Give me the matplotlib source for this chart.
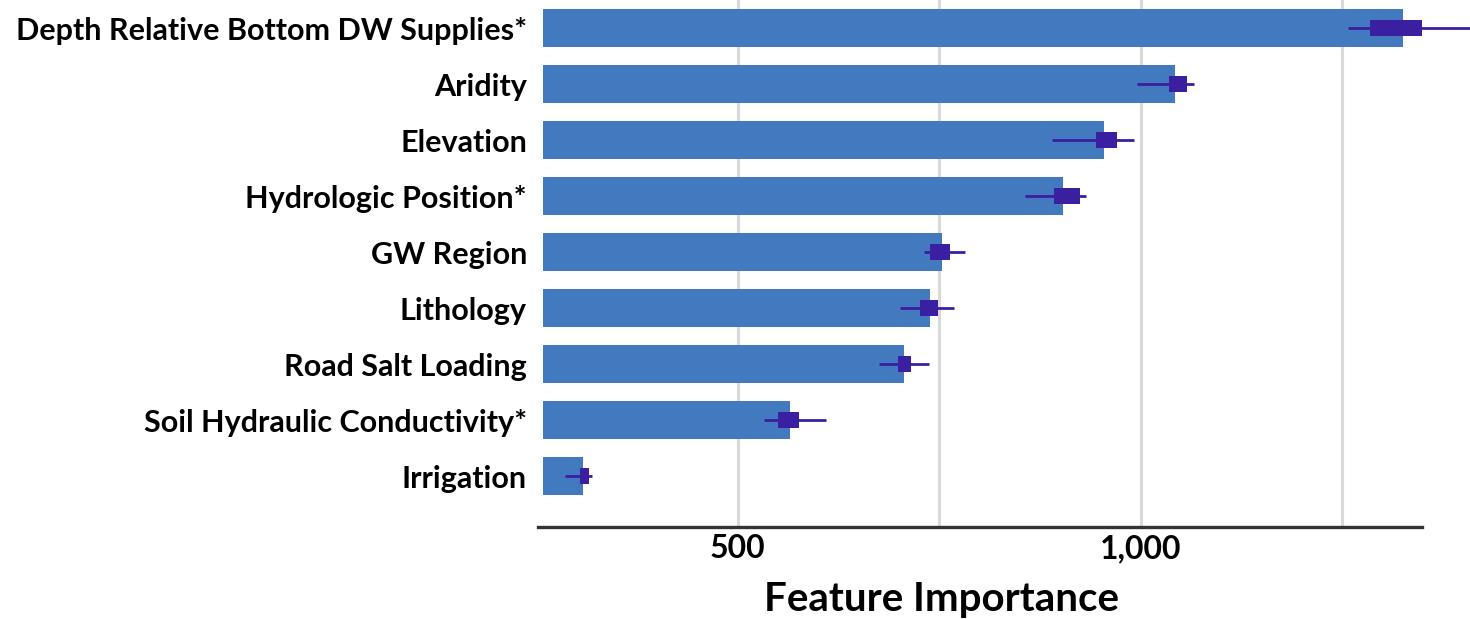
import numpy as np
import matplotlib.pyplot as plt
from matplotlib.ticker import FixedLocator, FuncFormatter

plt.rcParams['font.family'] = ['Lato', 'DejaVu Sans']
plt.rcParams['font.weight'] = 'bold'

# feature importance (bar) with spread of the repeated runs (box + whiskers)
features = ["Depth Relative Bottom DW Supplies*", "Aridity", "Elevation",
            "Hydrologic Position*", "GW Region", "Lithology",
            "Road Salt Loading", "Soil Hydraulic Conductivity*", "Irrigation"]
importance = [1325, 1042, 954, 904, 753, 738, 706, 565, 308]
box_lo = [1284, 1035, 944, 892, 738, 726, 699, 550, 304]
box_hi = [1351, 1057, 971, 924, 763, 749, 715, 576, 315]
whisk_lo = [1257, 995, 890, 856, 731, 701, 675, 533, 285]
whisk_hi = [1420, 1066, 991, 932, 782, 768, 737, 609, 319]
base = 258
major_ticks = [500, 1000]
grid_ticks = [750, 1250]

bar_col = "#4279bf"
err_col = "#3a1fa0"

fig = plt.figure(figsize=(14.7, 6.19), dpi=100)
ax = fig.add_axes([538/1470, 1 - 527/619, (1422 - 538)/1470, 527/619])

y = np.arange(len(features))[::-1]
imp = np.array(importance)
lo = np.array(box_lo)
hi = np.array(box_hi)

ax.barh(y, imp - base, left=base, height=0.69, color=bar_col, zorder=2)
ax.hlines(y, whisk_lo, whisk_hi, color=err_col, lw=2.0, zorder=3, clip_on=False)
ax.barh(y, hi - lo, left=lo, height=0.3, color=err_col, zorder=4)

ax.set_xlim(252, 1349)
ax.set_ylim(-0.91, 8.5)
ax.xaxis.set_major_locator(FixedLocator(major_ticks))
ax.xaxis.set_minor_locator(FixedLocator(grid_ticks))
ax.xaxis.set_major_formatter(FuncFormatter(lambda v, p: f"{v:,.0f}"))
ax.grid(axis='x', which='both', color='#d9d9d9', lw=2.2, zorder=0)
ax.set_axisbelow(True)

ax.set_yticks(y)
ax.set_yticklabels(features)
ax.tick_params(axis='y', length=0, pad=8, labelsize=22)
ax.tick_params(axis='x', which='both', length=0, pad=5, labelsize=23)

for s in ['top', 'right', 'left']:
    ax.spines[s].set_visible(False)
ax.spines['bottom'].set_color('#333333')
ax.spines['bottom'].set_linewidth(2.4)

fig.text(941/1470, 1 - 600/619, "Feature Importance", ha='center', va='center',
         fontsize=29, fontweight='bold')

fig.savefig("out.png", dpi=100)
